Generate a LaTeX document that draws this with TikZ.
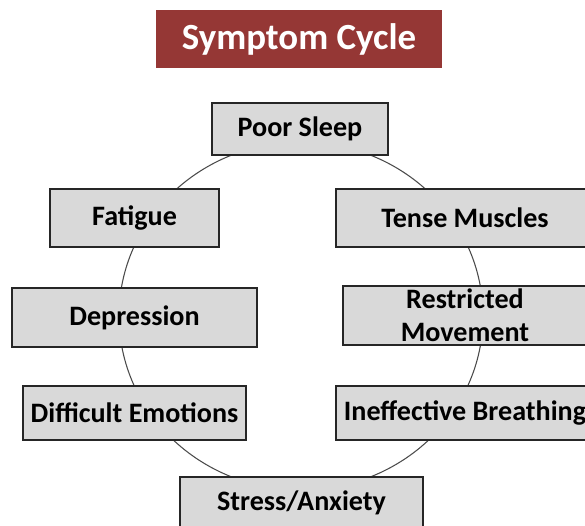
\documentclass[tikz,border=0pt]{standalone}
\usepackage{fontspec}
\setmainfont{Carlito}
\usetikzlibrary{positioning,backgrounds}

\definecolor{titlered}{HTML}{953735}
\definecolor{boxgray}{HTML}{D9D9D9}
\definecolor{ringgray}{HTML}{4A4A4A}

\tikzset{
	symbox/.style={draw=black!85, fill=boxgray, line width=0.85pt, inner sep=0pt, align=center,
		font=\bfseries\fontsize{16}{18.7}\selectfont},
	titlebox/.style={fill=titlered, text=white, inner sep=0pt,
		font=\bfseries\fontsize{21}{24}\selectfont},
}

\begin{document}
\begin{tikzpicture}[x=0.02cm,y=-0.02cm]
	\useasboundingbox (0,0) rectangle (585,525);
	\clip (0,0) rectangle (585,525);
	
	% titel
	\node[titlebox, minimum width=5.74cm, minimum height=1.18cm] (title) at (299,39) {Symptom Cycle};
	
	% ring achter de vakken
	\coordinate (ctr) at (301,316);
	\draw[ringgray, line width=0.6pt] (ctr) ellipse [x radius=182, y radius=174];
	
	% vakken rond de cyclus
	\node[symbox, minimum width=3.52cm, minimum height=1.04cm] (sleep) at (300,129) {Poor Sleep};
	\node[symbox, minimum width=3.38cm, minimum height=1.16cm] (fatigue) at (134.5,218) {Fatigue};
	\node[symbox, minimum width=5.16cm, minimum height=1.16cm] (tense) at (465,218) {Tense Muscles};
	\node[symbox, minimum width=4.90cm, minimum height=1.18cm] (depr) at (134.5,317.5) {Depression};
	\node[symbox, minimum width=4.88cm, minimum height=1.18cm] (restr) at (465,315.5) {Restricted\\Movement};
	\node[symbox, minimum width=4.46cm, minimum height=1.08cm] (diffemo) at (134.5,413) {Difficult Emotions};
	\node[symbox, minimum width=5.16cm, minimum height=1.08cm] (breath) at (465,413) {Ineffective Breathing};
	\node[symbox, minimum width=4.86cm, minimum height=1.04cm] (stress) at (301.5,503) {Stress/Anxiety};
\end{tikzpicture}
\end{document}
